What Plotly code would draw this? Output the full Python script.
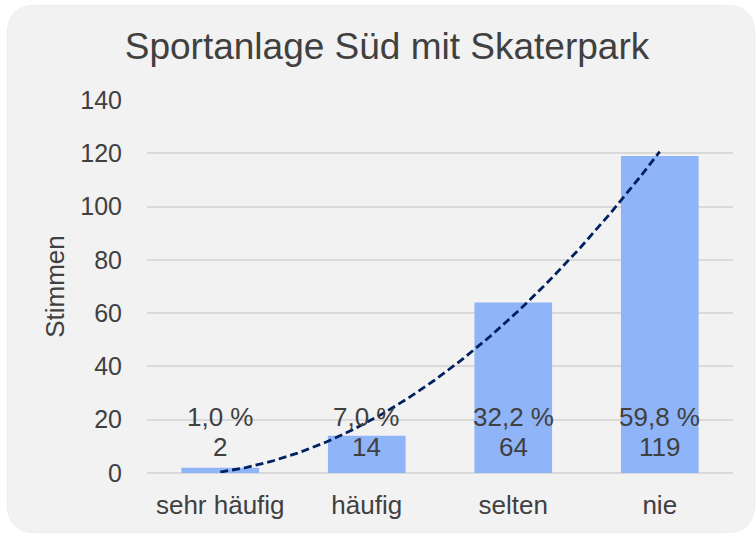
import numpy as np
import plotly.graph_objects as go

categories = ["sehr häufig", "häufig", "selten", "nie"]
votes = [2, 14, 64, 119]
y_ticks = [0, 20, 40, 60, 80, 100, 120, 140]

W, H = 756, 535
L, R, T, B = 147, 23, 100, 62
pw, ph = W - L - R, H - T - B

x_pos = np.arange(1, len(categories) + 1)
total = sum(votes)
pct_labels = [f"{v / total * 100:.1f} %".replace(".", ",") for v in votes]
val_labels = [str(v) for v in votes]

# polynomial (order 2) trendline derived from the data
coef = np.polyfit(x_pos, votes, 2)
xt = np.linspace(1, 4, 200)
yt = np.polyval(coef, xt)

FONT = "Liberation Sans, Arial, sans-serif"
TXT = "#404040"

fig = go.Figure()
fig.add_trace(go.Bar(x=x_pos, y=votes, width=0.53, marker=dict(color="#8FB4F8", line=dict(width=0)),
                     hoverinfo="skip"))
fig.add_trace(go.Scatter(x=xt, y=yt, mode="lines", line=dict(color="#002060", width=2.8, dash="8px,4px"),
                         hoverinfo="skip"))

def ypix(py):
    return (H - B - py) / ph

for xp, p, v in zip(x_pos, pct_labels, val_labels):
    fig.add_annotation(x=xp, xref="x", y=ypix(417), yref="y domain", text=p, showarrow=False,
                       font=dict(size=26, color=TXT, family=FONT), yanchor="middle")
    fig.add_annotation(x=xp, xref="x", y=ypix(447), yref="y domain", text=v, showarrow=False,
                       font=dict(size=26, color=TXT, family=FONT), yanchor="middle")

def P(px, py):
    return f"{(px - L) / pw:.5f},{(H - B - py) / ph:.5f}"

x0, y0, x1, y1, r = 7, 5, 755, 533, 30
path = (f"M {P(x0 + r, y0)} L {P(x1 - r, y0)} Q {P(x1, y0)} {P(x1, y0 + r)} "
        f"L {P(x1, y1 - r)} Q {P(x1, y1)} {P(x1 - r, y1)} L {P(x0 + r, y1)} "
        f"Q {P(x0, y1)} {P(x0, y1 - r)} L {P(x0, y0 + r)} Q {P(x0, y0)} {P(x0 + r, y0)} Z")
fig.add_shape(type="path", path=path, xref="paper", yref="paper", layer="below",
              fillcolor="#F2F2F2", line=dict(color="#E6E6E6", width=0.5))

fig.update_layout(
    width=W, height=H,
    margin=dict(l=L, r=R, t=T, b=B),
    paper_bgcolor="white", plot_bgcolor="rgba(0,0,0,0)",
    showlegend=False,
    font=dict(family=FONT, color=TXT),
    title=dict(text="Sportanlage Süd mit Skaterpark", x=387 / W, xref="container", xanchor="center",
               y=1 - 46 / H, yanchor="middle", yref="container",
               font=dict(size=37, color=TXT, family=FONT)),
)
fig.update_xaxes(range=[0.5, 4.5], tickvals=list(x_pos), ticktext=categories, showgrid=False,
                 zeroline=False, showline=False, ticks="", ticklabelstandoff=14,
                 tickfont=dict(size=26, color=TXT, family=FONT))
fig.update_yaxes(range=[0, 140], tickvals=y_ticks, showgrid=True, gridcolor="#D9D9D9", gridwidth=1.5,
                 zeroline=True, zerolinecolor="#D9D9D9", zerolinewidth=1.5, showline=False,
                 ticks="", ticklabelstandoff=24,
                 tickfont=dict(size=25, color=TXT, family=FONT),
                 title=dict(text="Stimmen", font=dict(size=26, color=TXT, family=FONT), standoff=8))

fig.write_html("out.html", config={"displayModeBar": False},
               post_script="document.body.style.margin='0';document.body.style.padding='0';")
